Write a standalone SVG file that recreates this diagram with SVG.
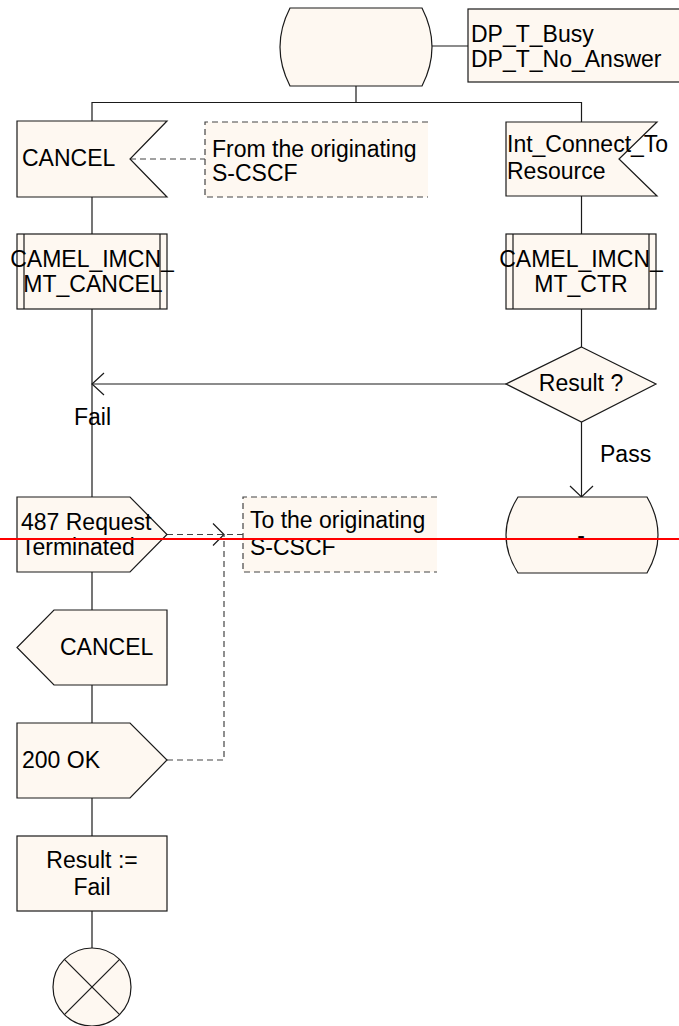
<svg xmlns="http://www.w3.org/2000/svg" width="679" height="1026" viewBox="0 0 679 1026">
<style>
.s{fill:#fef8f1;stroke:#1a1a1a;stroke-width:1.2}
.c{fill:none;stroke:#1a1a1a;stroke-width:1.2}
.d{fill:none;stroke:#444;stroke-width:1.2;stroke-dasharray:6,4}
.f{fill:#fef8f1;stroke:none}
text{font-family:"Liberation Sans",Arial,sans-serif;font-size:23px;fill:#000}
.m{text-anchor:middle}
</style>
<rect width="679" height="1026" fill="#fff"/>
<g id="connectors">
<line class="c" x1="432" y1="46" x2="468" y2="46"/>
<line class="c" x1="356" y1="86" x2="356" y2="102.5"/>
<polyline class="c" points="92,121 92,102.5 581.5,102.5 581.5,122"/>
<line class="c" x1="92" y1="197" x2="92" y2="234"/>
<line class="c" x1="581.5" y1="196" x2="581.5" y2="234"/>
<line class="c" x1="92" y1="309" x2="92" y2="497"/>
<line class="c" x1="581.5" y1="309" x2="581.5" y2="347"/>
<line class="c" x1="506" y1="384" x2="92" y2="384"/>
<polyline class="c" points="104,373 92,384 104,395"/>
<line class="c" x1="581.5" y1="422" x2="581.5" y2="497"/>
<polyline class="c" points="570,486 581.5,497 593,486"/>
<line class="c" x1="92" y1="572" x2="92" y2="610"/>
<line class="c" x1="92" y1="685" x2="92" y2="723"/>
<line class="c" x1="92" y1="798" x2="92" y2="836"/>
<line class="c" x1="92" y1="911" x2="92" y2="948"/>
<line class="d" x1="130" y1="159" x2="205" y2="159"/>
<line class="d" x1="167" y1="534.5" x2="243" y2="534.5"/>
<polyline class="c" points="213,523.5 224,534.5 213,545.5"/>
<polyline class="d" points="167,760 224,760 224,534.5"/>
</g>
<g id="start">
<path class="s" d="M290,8 H422 Q442,47 422,86 H290 Q270,47 290,8 Z"/>
</g>
<g id="dp_text">
<rect class="s" x="468" y="9" width="230" height="73"/>
<text x="471" y="42">DP_T_Busy</text>
<text x="471" y="67">DP_T_No_Answer</text>
</g>
<g id="cancel_in">
<polygon class="s" points="17,121 167,121 130,159 167,197 17,197"/>
<text x="22" y="166">CANCEL</text>
</g>
<g id="comment_from">
<rect class="f" x="205" y="122" width="223" height="75"/>
<path class="d" d="M428,122 H205 V197 H428"/>
<text x="212" y="157">From the originating</text>
<text x="212" y="181">S-CSCF</text>
</g>
<g id="int_connect">
<polygon class="s" points="506,122 657,122 619,159 657,196 506,196"/>
<text x="507" y="152">Int_Connect_To</text>
<text x="507" y="179">Resource</text>
</g>
<g id="proc_cancel">
<rect class="s" x="17" y="234" width="150" height="75"/>
<line class="c" x1="24" y1="234" x2="24" y2="309"/>
<line class="c" x1="160" y1="234" x2="160" y2="309"/>
<text class="m" x="92" y="267">CAMEL_IMCN_</text>
<text class="m" x="93" y="292">MT_CANCEL</text>
</g>
<g id="proc_ctr">
<rect class="s" x="506" y="234" width="150" height="75"/>
<line class="c" x1="513" y1="234" x2="513" y2="309"/>
<line class="c" x1="649" y1="234" x2="649" y2="309"/>
<text class="m" x="581" y="267">CAMEL_IMCN_</text>
<text class="m" x="581" y="292">MT_CTR</text>
</g>
<g id="decision">
<polygon class="s" points="581.5,347 656,384 581.5,422 506,384"/>
<text class="m" x="581" y="391">Result ?</text>
</g>
<g id="label_fail"><text x="74" y="425">Fail</text></g>
<g id="label_pass"><text x="600" y="462">Pass</text></g>
<g id="end_state">
<path class="s" d="M518,497 H647 Q669,535 647,573 H518 Q494,535 518,497 Z"/>
<text class="m" x="581" y="543">-</text>
</g>
<g id="out_487">
<polygon class="s" points="17,497 130,497 167,534.5 130,572 17,572"/>
<text x="21" y="530">487 Request</text>
<text x="21" y="555">Terminated</text>
</g>
<g id="comment_to">
<rect class="f" x="243" y="497" width="194" height="75"/>
<path class="d" d="M437,497 H243 V572 H437"/>
<text x="250" y="528">To the originating</text>
<text x="250" y="555">S-CSCF</text>
</g>
<g id="cancel_out">
<polygon class="s" points="54,610 167,610 167,685 54,685 17,647.5"/>
<text x="60" y="655">CANCEL</text>
</g>
<g id="ok_200">
<polygon class="s" points="17,723 130,723 167,760 130,798 17,798"/>
<text x="22" y="768">200 OK</text>
</g>
<g id="task_result">
<rect class="s" x="17" y="836" width="150" height="75"/>
<text class="m" x="92" y="868">Result :=</text>
<text class="m" x="92" y="895">Fail</text>
</g>
<g id="stop">
<circle class="s" cx="92" cy="987" r="39"/>
<line class="c" x1="64.4" y1="959.4" x2="119.6" y2="1014.6"/>
<line class="c" x1="119.6" y1="959.4" x2="64.4" y2="1014.6"/>
</g>
<line x1="0" y1="539" x2="679" y2="539" stroke="#ff0000" stroke-width="2"/>
</svg>
